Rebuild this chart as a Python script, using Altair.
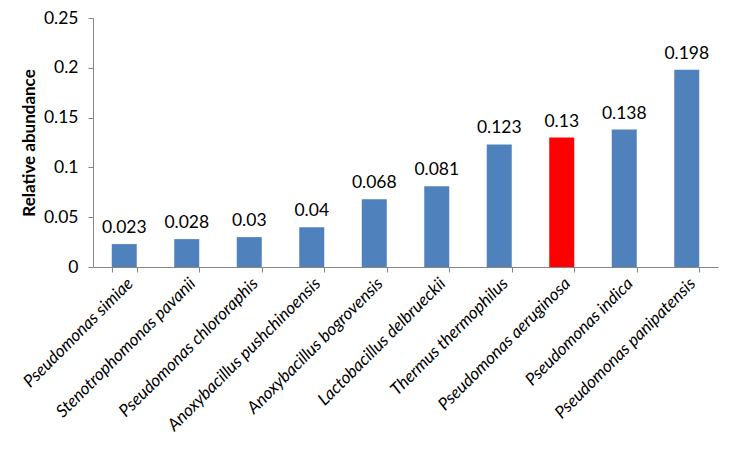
import altair as alt
import pandas as pd

species = ["Pseudomonas simiae", "Stenotrophomonas pavanii", "Pseudomonas chlororaphis",
           "Anoxybacillus pushchinoensis", "Anoxybacillus bogrovensis", "Lactobacillus delbrueckii",
           "Thermus thermophilus", "Pseudomonas aeruginosa", "Pseudomonas indica",
           "Pseudomonas panipatensis"]
abundance = [0.023, 0.028, 0.03, 0.04, 0.068, 0.081, 0.123, 0.13, 0.138, 0.198]
labels = ["0.023", "0.028", "0.03", "0.04", "0.068", "0.081", "0.123", "0.13", "0.138", "0.198"]
highlight = ["no", "no", "no", "no", "no", "no", "no", "yes", "no", "no"]

df = pd.DataFrame({"species": species, "abundance": abundance, "label": labels, "hl": highlight})

FONT = "Lato"

x = alt.X("species:N", sort=species, title=None,
          scale=alt.Scale(paddingInner=0.6, paddingOuter=0.3),
          axis=alt.Axis(labelAngle=-45, labelFontStyle="italic", labelFontSize=17,
                        labelFont=FONT, labelColor="black", domainColor="#868686",
                        tickColor="#868686", tickSize=5, tickBand="extent",
                        labelPadding=3, labelLimit=400))

bars = alt.Chart(df).mark_bar().encode(
    x=x,
    y=alt.Y("abundance:Q", title="Relative abundance",
            scale=alt.Scale(domain=[0, 0.25], nice=False),
            axis=alt.Axis(values=[0, 0.05, 0.1, 0.15, 0.2, 0.25], format=".2~f", grid=False,
                          labelFontSize=17.5, labelFont=FONT, labelColor="black",
                          domainColor="#868686", tickColor="#868686", tickSize=5,
                          titleFont=FONT, titleFontSize=17, titleFontWeight="bold",
                          titleColor="black", titlePadding=5, labelPadding=10)),
    color=alt.Color("hl:N", scale=alt.Scale(domain=["no", "yes"], range=["#4F81BD", "#FF0000"]),
                    legend=None),
)

text = alt.Chart(df).mark_text(dy=-16, fontSize=17.5, font=FONT, color="black").encode(
    x=alt.X("species:N", sort=species),
    y=alt.Y("abundance:Q"),
    text="label:N",
)

chart = (bars + text).properties(
    width=625, height=249,
    autosize=alt.AutoSizeParams(type="none"),
    padding={"left": 85, "top": 10, "right": 4, "bottom": 177},
).configure_view(stroke=None)

chart.save("out.html", embed_options={"renderer": "svg", "actions": False})
